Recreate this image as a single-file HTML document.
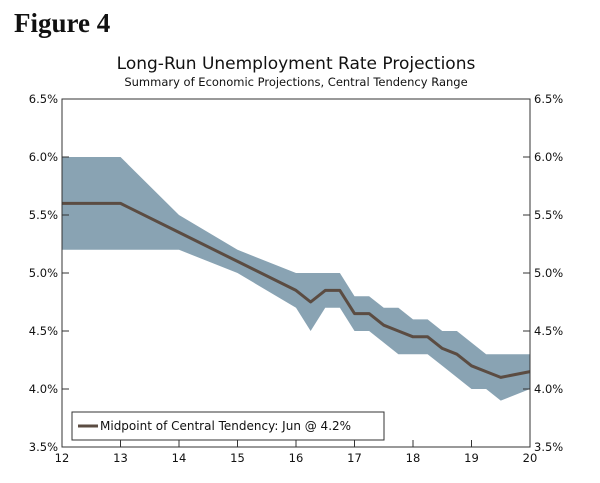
<!DOCTYPE html>
<html><head><meta charset="utf-8"><style>
body{margin:0;background:#fff;}
svg text{font-family:"DejaVu Sans","Liberation Sans",sans-serif;fill:#111;}
</style></head><body>
<svg width="600" height="478" viewBox="0 0 600 478">
<text x="14" y="32" style="font-family:'Liberation Serif',serif;font-weight:bold;font-size:27px">Figure 4</text>
<text x="296" y="69" text-anchor="middle" style="font-size:17px">Long-Run Unemployment Rate Projections</text>
<text x="296" y="86" text-anchor="middle" style="font-size:11.5px">Summary of Economic Projections, Central Tendency Range</text>
<g id="plot"></g>
</svg>
<script>
const xs=[12,13,14,15,16,16.25,16.5,16.75,17,17.25,17.5,17.75,18,18.25,18.5,18.75,19,19.25,19.5,20];
const upper=[6.0,6.0,5.5,5.2,5.0,5.0,5.0,5.0,4.8,4.8,4.7,4.7,4.6,4.6,4.5,4.5,4.4,4.3,4.3,4.3];
const lower=[5.2,5.2,5.2,5.0,4.7,4.5,4.7,4.7,4.5,4.5,4.4,4.3,4.3,4.3,4.2,4.1,4.0,4.0,3.9,4.0];
const mid=[5.6,5.6,5.35,5.1,4.85,4.75,4.85,4.85,4.65,4.65,4.55,4.5,4.45,4.45,4.35,4.3,4.2,4.15,4.1,4.15];
const xTicks=[12,13,14,15,16,17,18,19,20];
const yTicks=[3.5,4.0,4.5,5.0,5.5,6.0,6.5];
const L=62,R=530,T=99,B=447;
const X=v=>L+(v-12)/8*(R-L), Y=v=>B-(v-3.5)/3*(B-T);
const NS='http://www.w3.org/2000/svg', g=document.getElementById('plot');
function mk(t,a){const e=document.createElementNS(NS,t);for(const k in a)e.setAttribute(k,a[k]);g.appendChild(e);return e;}
let d='M'+xs.map((x,i)=>X(x)+','+Y(upper[i])).join('L')+'L'+xs.map((x,i)=>X(x)+','+Y(lower[i])).reverse().join('L')+'Z';
let band=mk('path',{d:d,fill:'#89a3b3'});


let ln=mk('polyline',{points:xs.map((x,i)=>X(x)+','+Y(mid[i])).join(' '),fill:'none',stroke:'#5b4c42','stroke-width':3,'stroke-linejoin':'round'});


let fr=mk('rect',{x:L,y:T,width:R-L,height:B-T,fill:'none',stroke:'#333','stroke-width':1});


yTicks.forEach(v=>{
 const y=Y(v);
 mk('line',{x1:L,x2:L+7,y1:y,y2:y,stroke:'#333'});mk('line',{x1:R-7,x2:R,y1:y,y2:y,stroke:'#333'});
 const lab=v.toFixed(1)+'%';
 let a=mk('text',{x:L-4,y:y+4,'text-anchor':'end','font-size':'11.5'});a.textContent=lab;
 
 
 let b=mk('text',{x:R+4,y:y+4,'font-size':'11.5'});b.textContent=lab;
 
 
});
xTicks.forEach(v=>{
 const x=X(v);
 mk('line',{x1:x,x2:x,y1:B-7,y2:B,stroke:'#333'});
 let t=mk('text',{x:x,y:B+15,'text-anchor':'middle','font-size':'11.5'});t.textContent=v;
 
 
});
let lb=mk('rect',{x:72,y:412,width:312,height:28,fill:'#fff',stroke:'#333'});


mk('line',{x1:78,x2:98,y1:426,y2:426,stroke:'#5b4c42','stroke-width':3});
let lt=mk('text',{x:100,y:430,'font-size':'12'});lt.textContent='Midpoint of Central Tendency: Jun @ 4.2%';


</script>
</body></html>
